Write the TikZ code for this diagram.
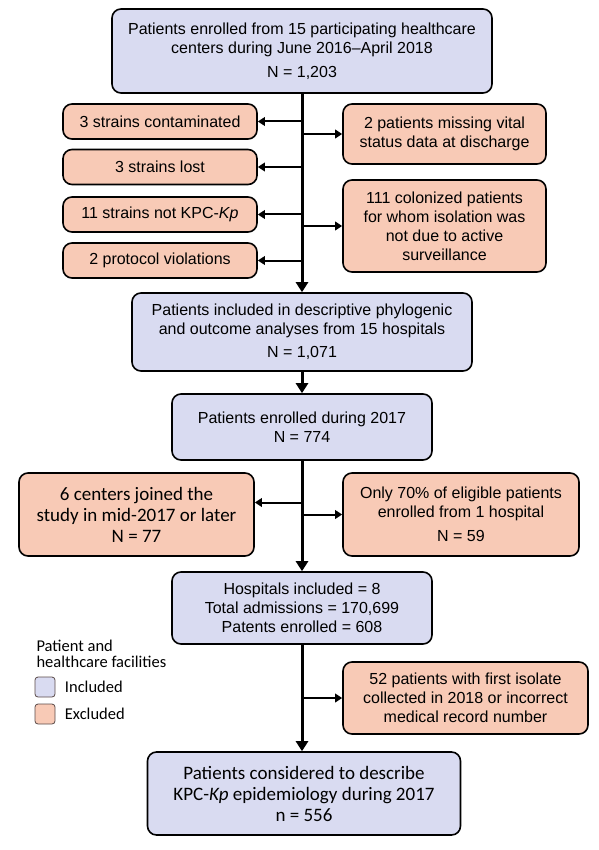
\documentclass[tikz,border=0pt]{standalone}
\usepackage{fontspec}
\setmainfont{Liberation Sans}
\newfontfamily\calibri{Carlito}
\usepackage{tikz}
\usetikzlibrary{arrows.meta,positioning}
\definecolor{incblue}{HTML}{D9DBF1}
\definecolor{excsalmon}{HTML}{F8CAB6}
\definecolor{legline}{HTML}{5A4A48}

\begin{document}
\begin{tikzpicture}[x=1pt,y=-1pt,
        box/.style={draw, line width=1.6pt, rounded corners=9pt, align=center, inner sep=0pt,
                font=\fontsize{16}{19}\selectfont},
        incbox/.style={box, fill=incblue},
        excbox/.style={box, fill=excsalmon},
        cal/.style={font=\calibri\fontsize{19}{21}\selectfont},
        spine/.style={line width=3pt, -{Triangle[length=10pt,width=12pt]}},
        side/.style={line width=2pt, -{Triangle[length=7pt,width=8.5pt]}},
        swatch/.style={draw=legline, line width=0.8pt, rounded corners=3pt, minimum size=20pt, inner sep=0pt},
        legtext/.style={font=\calibri\fontsize{16.5}{16.5}\selectfont, align=left}]
        \useasboundingbox (0,0) rectangle (598,850);

        % included chain
        \node[incbox, minimum width=380pt, minimum height=84pt] (enrolled) at (302,51)
                {Patients enrolled from 15 participating healthcare\\centers during June 2016–April 2018\\[5pt]N = 1,203};
        \node[incbox, minimum width=340pt, minimum height=78pt] (descr) at (302,332)
                {Patients included in descriptive phylogenic\\and outcome analyses from 15 hospitals\\[4pt]N = 1,071};
        \node[incbox, minimum width=260pt, minimum height=66pt] (y2017) at (302,427)
                {Patients enrolled during 2017\\N = 774};
        \node[incbox, minimum width=260pt, minimum height=72pt] (hosp) at (302,608)
                {Hospitals included = 8\\Total admissions = 170,699\\Patents enrolled = 608};
        \node[incbox, cal, minimum width=313pt, minimum height=83pt] (final) at (304,793.5)
                {Patients considered to describe\\KPC-\textit{Kp} epidemiology during 2017\\n = 556};

        % excluded, first step
        \node[excbox, minimum width=194pt, minimum height=35pt] (contam) at (160,121.5) {3 strains contaminated};
        \node[excbox, minimum width=194pt, minimum height=35pt] (lost) at (160,167) {3 strains lost};
        \node[excbox, minimum width=194pt, minimum height=35pt] (notkpc) at (160,214.5) {11 strains not KPC-\textit{Kp}};
        \node[excbox, minimum width=194pt, minimum height=35pt] (protocol) at (160,260.5) {2 protocol violations};
        \node[excbox, minimum width=203pt, minimum height=60pt] (vital) at (444.5,134)
                {2 patients missing vital\\status data at discharge};
        \node[excbox, minimum width=203pt, minimum height=92pt] (colon) at (444.5,226)
                {111 colonized patients\\for whom isolation was\\not due to active\\surveillance};

        % excluded, later steps
        \node[excbox, cal, minimum width=235pt, minimum height=83pt] (midyear) at (136.5,514.5)
                {6 centers joined the\\study in mid-2017 or later\\N = 77};
        \node[excbox, minimum width=236pt, minimum height=83pt] (partial) at (461,514.5)
                {Only 70\% of eligible patients\\enrolled from 1 hospital\\[5pt]N = 59};
        \node[excbox, minimum width=245pt, minimum height=72pt] (isolate) at (465.5,698)
                {52 patients with first isolate\\collected in 2018 or incorrect\\medical record number};

        % legend
        \node[legtext, anchor=west] (legtitle) at (33,654) {Patient and\\healthcare facilities};
        \node[swatch, fill=incblue] (legin) at (45,687) {};
        \node[swatch, fill=excsalmon] (legex) at (45,714) {};
        \node[legtext, right=6pt of legin] {Included};
        \node[legtext, right=6pt of legex] {Excluded};

        % spine
        \draw[spine] (enrolled.south) -- (descr.north);
        \draw[spine] (descr.south) -- (y2017.north);
        \draw[spine] (y2017.south) -- (hosp.north);
        \draw[spine] (hosp.south) -- (hosp.south |- final.north);

        % side arrows
        \foreach \ex in {contam,lost,notkpc,protocol}
                \draw[side] (enrolled.south |- \ex.east) -- (\ex.east);
        \foreach \ex in {vital,colon}
                \draw[side] (enrolled.south |- \ex.west) -- (\ex.west);
        \coordinate (midarr) at ([yshift=12pt]midyear.east);
        \draw[side] (y2017.south |- midarr) -- (midarr);
        \draw[side] (y2017.south |- partial.west) -- (partial.west);
        \draw[side] (hosp.south |- isolate.west) -- (isolate.west);
\end{tikzpicture}
\end{document}
